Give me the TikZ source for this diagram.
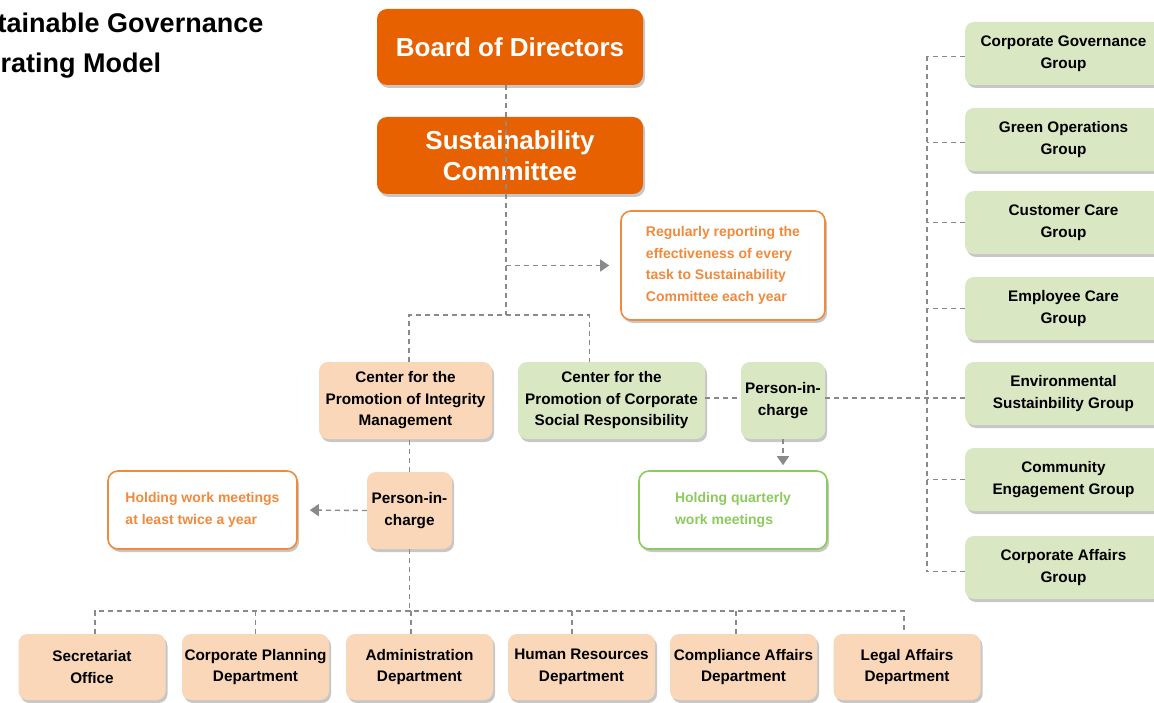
\documentclass[tikz,border=0pt]{standalone}
\usepackage{fontspec}
\setmainfont{Liberation Sans}
\usetikzlibrary{arrows.meta,shadows,calc}
\definecolor{dorange}{HTML}{E86100}
\definecolor{peach}{HTML}{F9D7B8}
\definecolor{lgreen}{HTML}{D9E7C3}
\definecolor{norange}{HTML}{F08A3C}
\definecolor{ngreen}{HTML}{8DCB5C}
\definecolor{dgray}{HTML}{8A8A8A}
\newcommand\boxfnt{\bfseries\fontsize{15.3}{21.5}\selectfont}
\newcommand\notefnt{\bfseries\fontsize{14}{21.5}\selectfont}
\newcommand\bigfnt{\bfseries\fontsize{26}{31}\selectfont}
\newcommand\ttlfnt{\bfseries\fontsize{27}{31}\selectfont}
\begin{document}
\begin{tikzpicture}[x=1pt,y=-1pt,
  shad/.style={drop shadow={shadow xshift=2pt,shadow yshift=-3pt,opacity=0.22,fill=black}},
  topbox/.style={shad,fill=dorange,text=white,rounded corners=10pt,minimum width=266pt,align=center,font=\bigfnt,inner sep=0pt},
  pbox/.style={shad,fill=peach,text=black,rounded corners=9pt,align=center,font=\boxfnt,inner sep=0pt},
  gbox/.style={shad,fill=lgreen,text=black,rounded corners=9pt,align=center,font=\boxfnt,inner sep=0pt},
  onote/.style={shad,fill=white,draw=norange,line width=1.6pt,text=norange,rounded corners=10pt,align=left,font=\notefnt,inner sep=0pt},
  gnote/.style={shad,fill=white,draw=ngreen,line width=1.6pt,text=ngreen,rounded corners=10pt,align=left,font=\notefnt,inner sep=0pt},
  dline/.style={draw=dgray,line width=1.4pt,dash pattern=on 5pt off 4pt},
  arr/.style={-{Triangle[length=9pt,width=12pt,fill=dgray]}},
  ttl/.style={anchor=base west,font=\ttlfnt,text=black,inner sep=0pt}
]
\useasboundingbox (0,0) rectangle (1154,703);
% title
\node[ttl] (t1) at (-52,33) {Sustainable Governance};
\node[ttl] (t2) at (-52,73) {Operating Model};
% top
\node[topbox,minimum height=76pt] (bod) at (510,47) {Board of Directors};
\node[topbox,minimum height=77pt] (sc) at (510,155.5) {Sustainability\\Committee};
\node[onote,minimum width=204pt,minimum height=109pt] (n1) at (723,265.5) {Regularly reporting the\\effectiveness of every\\task to Sustainability\\Committee each year};
% centers
\node[pbox,minimum width=173pt,minimum height=77pt] (cpim) at (405.5,400.5) {Center for the\\Promotion of Integrity\\Management};
\node[gbox,minimum width=187pt,minimum height=77pt] (ccsr) at (611.5,400.5) {Center for the\\Promotion of Corporate\\Social Responsibility};
\node[gbox,minimum width=84pt,minimum height=77pt] (pg) at (783,400.5) {Person-in-\\charge};
\node[gnote,minimum width=188pt,minimum height=78pt] (nq) at (733,510) {Holding quarterly\\work meetings};
\node[pbox,minimum width=85pt,minimum height=77pt] (pp) at (409.5,510.5) {Person-in-\\charge};
\node[onote,minimum width=189pt,minimum height=78pt] (n2) at (202.5,510) {Holding work meetings\\at least twice a year};
% groups
\foreach \n/\y/\t in {cg/53.5/{Corporate Governance\\Group},go/139.5/{Green Operations\\Group},cc/222.5/{Customer Care\\Group},ec/308.5/{Employee Care\\Group},es/393.5/{Environmental\\Sustainbility Group},ce/479.5/{Community\\Engagement Group},ca/567.5/{Corporate Affairs\\Group}}
  \node[gbox,minimum width=197pt,minimum height=63pt] (\n) at (1063.5,\y) {\t};
% departments
\foreach \n/\x/\t in {sec/92/{Secretariat\\Office},cpd/255.5/{Corporate Planning\\Department},adm/419.5/{Administration\\Department},hr/581.5/{Human Resources\\Department},comp/743.5/{Compliance Affairs\\Department},leg/907/{Legal Affairs\\Department}}
  \node[pbox,minimum width=147pt,minimum height=66pt] (\n) at (\x,667) {\t};
% connectors
\coordinate (j1) at (506,315);
\coordinate (rv) at (927,0);
\coordinate (j2) at (409.5,611);
\coordinate (jr) at (927,398);
\draw[dline] (bod.south -| j1) -- (sc.south -| j1);
\draw[dline] (sc.south -| j1) -- (j1);
\draw[dline,arr,shorten >=11pt] (j1 |- n1.west) -- (n1.west);
\draw[dline] ([xshift=3.5pt]cpim.north) |- (j1) -| ([xshift=-22pt]ccsr.north);
\draw[dline] (pp.north) -- (pp.north |- cpim.south);
\draw[dline,arr,shorten >=12pt] (pp.west) -- (n2.east);
\draw[dline] (ccsr.east |- jr) -- (pg.west |- jr);
\draw[dline] (pg.east |- jr) -- (es.west |- jr);
\draw[dline,arr,shorten >=5pt] (pg.south) -- (pg.south |- nq.north);
\draw[dline] ([yshift=-3pt]cg.west -| rv) -- ([yshift=-4pt]ca.west -| rv);
\foreach \n/\d in {cg/-3,go/-3,cc/0,ec/0,ce/0,ca/-4}
  \draw[dline] ([yshift=\d pt]\n.west) -- ([yshift=\d pt]\n.west -| rv);
\draw[dline] (pp.south) -- (j2);
\draw[dline] ([xshift=3pt]sec.north) |- (j2) -| ([xshift=-3pt]leg.north);
\foreach \n/\d in {cpd/0,adm/-8.5,hr/-9.5,comp/-7.5}
  \draw[dline] ([xshift=\d pt]\n.north) -- ([xshift=\d pt]\n.north |- j2);
\end{tikzpicture}
\end{document}
